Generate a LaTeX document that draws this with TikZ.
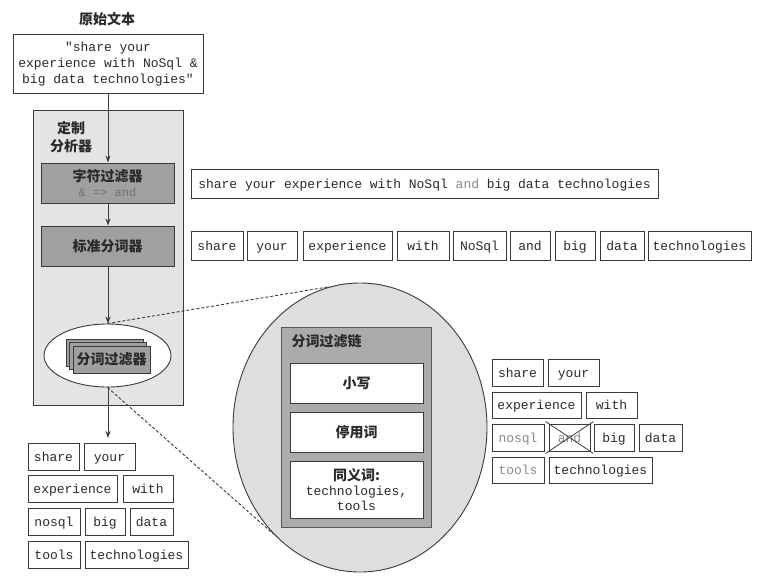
\documentclass[tikz,border=0pt]{standalone}
\usepackage{fontspec}
\setmonofont{Liberation Mono}
\newfontfamily\cjk{Noto Sans CJK SC}
\usetikzlibrary{arrows.meta,shapes.geometric}
\definecolor{lineC}{HTML}{3A3A3A}
\definecolor{anFill}{HTML}{E4E4E4}
\definecolor{midFill}{HTML}{A0A0A0}
\definecolor{bigFill}{HTML}{DEDEDE}
\definecolor{chainFill}{HTML}{ABABAB}
\definecolor{txtC}{HTML}{2A2A2A}
\definecolor{modC}{HTML}{8A8A8A}
\newcommand\tokb[7][]{\node[tok,#1,minimum width={(#5-#4)*1pt},minimum height={(#7-#6)*1pt}] (#2) at ({(#4+#5)/2},{(#6+#7)/2}) {#3};}
\tikzset{
  mono/.style={font=\ttfamily\fontsize{13}{16}\selectfont},
  cjkt/.style={font=\cjk\bfseries\fontsize{14}{17}\selectfont, text=txtC},
  tok/.style={draw=lineC, line width=0.9pt, fill=white, inner sep=0pt, mono, text=txtC, text height=10.5pt, text depth=1.5pt},
  box/.style={draw=lineC, line width=0.9pt, inner sep=0pt},
  flow/.style={draw=lineC, line width=0.9pt, -{Stealth[length=7pt,width=5pt]}},
  zoomline/.style={draw=lineC, line width=0.9pt, dash pattern=on 3pt off 2pt},
}
\begin{document}
\begin{tikzpicture}[x=1pt,y=-1pt]
\useasboundingbox[fill=white] (0,0) rectangle (774,579);

% title and source text
\node[cjkt] (title) at (107,19) {原始文本};
\node[box, fill=white, minimum width=190pt, minimum height=59pt, align=center, mono, text=txtC] (src) at (108,64)
  {"share your\\experience with NoSql \&\\big data technologies"};

% custom analyzer
\node[box, fill=anFill, minimum width=150pt, minimum height=295pt] (an) at (108,257.5) {};
\node[cjkt, align=center, font=\cjk\bfseries\fontsize{14}{18}\selectfont] (anlabel) at (71,137) {定制\\分析器};

\node[box, fill=midFill, minimum width=133pt, minimum height=40pt, align=center, text=txtC,
      font=\cjk\bfseries\fontsize{14}{16}\selectfont] (cf) at (107.5,183)
  {字符过滤器\\[-1pt]\textcolor{black!55}{\ttfamily\mdseries\fontsize{12}{14}\selectfont \& => and}};
\node[box, fill=midFill, minimum width=133pt, minimum height=40pt, cjkt] (st) at (107.5,246) {标准分词器};

\node[draw=lineC, line width=0.9pt, fill=white, ellipse, minimum width=127pt, minimum height=63pt, inner sep=0pt] (ell) at (107.5,355.5) {};
\node[box, fill=midFill, minimum width=77pt, minimum height=27pt] (card1) at (104.5,352.5) {};
\node[box, fill=midFill, minimum width=77pt, minimum height=27pt] (card2) at (108,356) {};
\node[box, fill=midFill, minimum width=77pt, minimum height=27pt, cjkt] (card3) at (111.5,359.5) {分词过滤器};

% top long string
\tokb{long}{share your experience with NoSql \textcolor{modC}{and} big data technologies}{191}{658}{169}{198}

% tokenizer output
\tokb{t1}{share}{191}{243}{231}{260}
\tokb{t2}{your}{247}{297}{231}{260}
\tokb{t3}{experience}{303}{392}{231}{260}
\tokb{t4}{with}{397}{449}{231}{260}
\tokb{t5}{NoSql}{453}{506}{231}{260}
\tokb{t6}{and}{510}{550}{231}{260}
\tokb{t7}{big}{555}{595}{231}{260}
\tokb{t8}{data}{600}{644}{231}{260}
\tokb{t9}{technologies}{648}{751}{231}{260}

% zoomed token filter chain
\node[draw=lineC, line width=0.9pt, fill=bigFill, ellipse, minimum width=254pt, minimum height=289pt, inner sep=0pt] (big) at (360,427.5) {};
\node[box, draw=black!65, fill=chainFill, minimum width=150pt, minimum height=200pt] (chain) at (356,427) {};
\node[cjkt, anchor=west] (chainlabel) at (288,341) {分词过滤链};
\node[box, fill=white, minimum width=133pt, minimum height=40pt, cjkt] (lower) at (356.5,383) {小写};
\node[box, fill=white, minimum width=133pt, minimum height=40pt, cjkt] (stop) at (356.5,432) {停用词};
\node[box, fill=white, minimum width=133pt, minimum height=57pt, align=center, text=txtC,
      font=\ttfamily\fontsize{13}{15}\selectfont] (syn) at (356.5,489.5)
  {{\cjk\bfseries\fontsize{14}{16}\selectfont 同义词:}\\technologies,\\tools};

% right output stack
\tokb{r1}{share}{492}{543}{359}{386}
\tokb{r2}{your}{548}{599}{359}{386}
\tokb{r3}{experience}{492}{581}{392}{418}
\tokb{r4}{with}{586}{637}{392}{418}
\tokb[text=modC]{r5}{nosql}{492}{544}{424}{451}
\tokb[text=modC]{r6}{and}{549}{590}{424}{451}
\tokb{r7}{big}{594}{634}{424}{451}
\tokb{r8}{data}{639}{682}{424}{451}
\tokb[text=modC]{r9}{tools}{492}{544}{457}{483}
\tokb{r10}{technologies}{549}{652}{457}{483}
\draw[lineC, line width=0.8pt] ([shift={(-3,-2)}]r6.north west) -- ([shift={(3,2)}]r6.south east);
\draw[lineC, line width=0.8pt] ([shift={(-3,2)}]r6.south west) -- ([shift={(3,-2)}]r6.north east);

% bottom-left output stack
\tokb{b1}{share}{28}{79}{443}{470}
\tokb{b2}{your}{84}{135}{443}{470}
\tokb{b3}{experience}{28}{117}{475}{502}
\tokb{b4}{with}{123}{173}{475}{502}
\tokb{b5}{nosql}{28}{80}{508}{535}
\tokb{b6}{big}{85}{125}{508}{535}
\tokb{b7}{data}{130}{173}{508}{535}
\tokb{b8}{tools}{28}{80}{541}{568}
\tokb{b9}{technologies}{85}{188}{541}{568}

% connectors
\draw[flow] (src.south) -- (src.south |- cf.north);
\draw[flow] (src.south |- cf.south) -- (src.south |- st.north);
\draw[flow] (src.south |- st.south) -- (src.south |- ell.north);
\coordinate (outend) at (108,438);
\draw[flow] (src.south |- ell.south) -- (outend);
\draw[zoomline] (ell.north) -- (big.102);
\draw[zoomline] (ell.south) -- (big.231);
\end{tikzpicture}
\end{document}
